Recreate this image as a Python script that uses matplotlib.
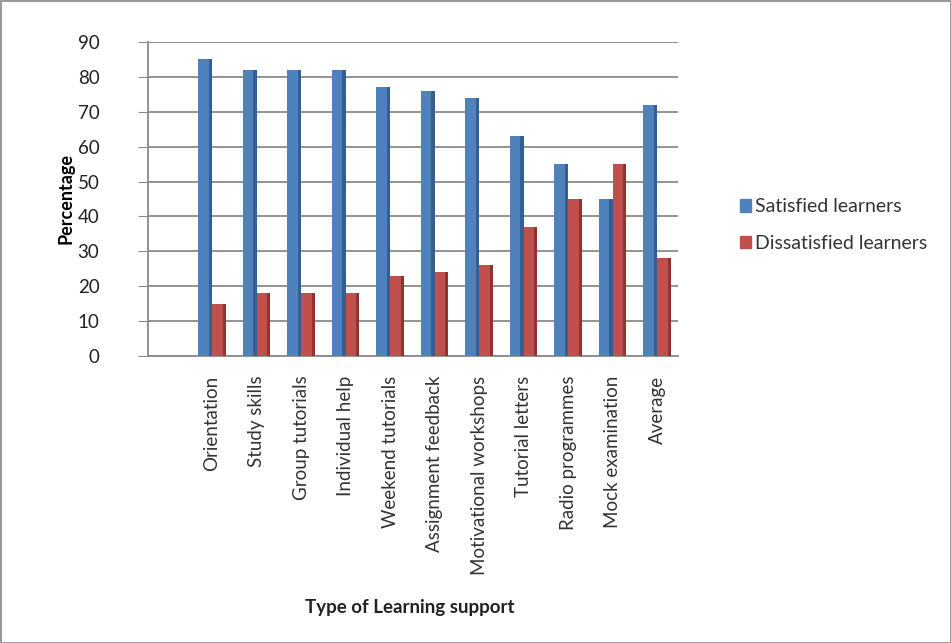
import matplotlib.pyplot as plt
import numpy as np

# Learning support categories and learner satisfaction (%)
categories = [
    "Orientation", "Study skills", "Group tutorials", "Individual help",
    "Weekend tutorials", "Assignment feedback", "Motivational workshops",
    "Tutorial letters", "Radio programmes", "Mock examination", "Average",
]
satisfied = [85, 82, 82, 82, 77, 76, 74, 63, 55, 45, 72]
dissatisfied = [15, 18, 18, 18, 23, 24, 26, 37, 45, 55, 28]
y_ticks = list(range(0, 100, 10))

BLUE, BLUE_SIDE = "#4F81BD", "#355E91"
RED, RED_SIDE = "#C0504D", "#8E3532"
FONT = "Lato"

fig = plt.figure(figsize=(9.51, 6.43), dpi=100)
fig.patch.set_edgecolor("#9a9a9a")
fig.patch.set_linewidth(2)
ax = fig.add_axes([148 / 951, 1 - 356 / 643, 530 / 951, 314 / 643])

x = np.arange(len(categories))
w = 0.31
side = 0.07
ax.bar(x - w / 2, satisfied, width=w, color=BLUE, zorder=3)
ax.bar(x - w / 2 + w / 2 - side / 2, satisfied, width=side, color=BLUE_SIDE, zorder=4)
ax.bar(x + w / 2, dissatisfied, width=w, color=RED, zorder=3)
ax.bar(x + w / 2 + w / 2 - side / 2, dissatisfied, width=side, color=RED_SIDE, zorder=4)

ax.set_xlim(-1.44, 10.47)
ax.set_ylim(0, 90)
ax.set_yticks(y_ticks)
ax.set_yticklabels([str(v) for v in y_ticks], fontsize=13.5, family=FONT, color="#222222")
ax.yaxis.grid(True, color="#8a8a8a", linewidth=1.3, zorder=0)
ax.set_axisbelow(True)

ax.set_xticks(x)
ax.set_xticklabels(categories, rotation=90, fontsize=13.5, family=FONT,
                   color="#333333", va="top", ha="center")
ax.tick_params(axis="x", length=0, pad=14)
ax.tick_params(axis="y", length=7, color="#8a8a8a", pad=28)

for s in ("top", "right"):
    ax.spines[s].set_visible(False)
for s in ("left", "bottom"):
    ax.spines[s].set_color("#8a8a8a")
    ax.spines[s].set_linewidth(1.3)

ax.set_ylabel("Percentage", fontsize=13, family=FONT, fontweight="bold", labelpad=2)
fig.text(410 / 951, 1 - 607 / 643, "Type of Learning support", fontsize=13.5,
         family=FONT, fontweight="bold", ha="center", va="center", color="#222222")

handles = [plt.Rectangle((0, 0), 1, 1, color=BLUE),
           plt.Rectangle((0, 0), 1, 1, color=RED)]
fig.legend(handles, ["Satisfied learners", "Dissatisfied learners"],
           loc="center left", bbox_to_anchor=(722 / 951, 1 - 225 / 643),
           frameon=False, prop={"family": FONT, "size": 14},
           handlelength=0.6, handleheight=0.6, handletextpad=0.2,
           labelspacing=1.0, labelcolor="#333333")

fig.savefig("out.png", dpi=100)
